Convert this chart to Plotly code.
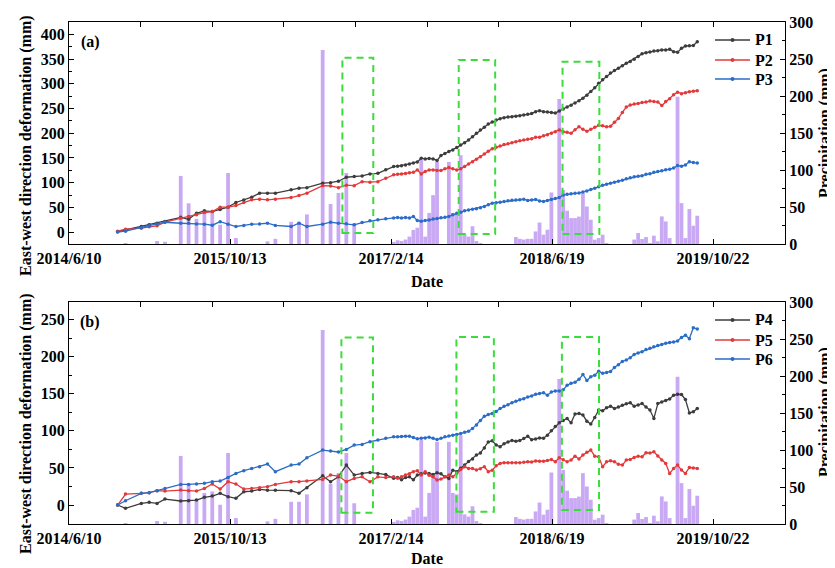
import plotly.graph_objects as go

# ---------------- data ----------------
dates = [
    "2014-11-05", "2014-11-29", "2015-01-16", "2015-02-09", "2015-03-05", "2015-03-29",
    "2015-05-16", "2015-06-09", "2015-07-03", "2015-07-27", "2015-08-20", "2015-09-13",
    "2015-10-07", "2015-10-31", "2015-11-24", "2015-12-18", "2016-01-11", "2016-02-04",
    "2016-02-28", "2016-04-16", "2016-05-10", "2016-06-03", "2016-07-21", "2016-08-14",
    "2016-09-07", "2016-10-01", "2016-10-25", "2016-11-18", "2016-12-12", "2017-01-05",
    "2017-01-29", "2017-02-22",
    "2017-03-06", "2017-03-18", "2017-03-30", "2017-04-11", "2017-04-23", "2017-05-05",
    "2017-05-17", "2017-05-29", "2017-06-10", "2017-06-22", "2017-07-04", "2017-07-16",
    "2017-07-28", "2017-08-09", "2017-08-21", "2017-09-02", "2017-09-14", "2017-09-26",
    "2017-10-08", "2017-10-20", "2017-11-01", "2017-11-13", "2017-11-25", "2017-12-07",
    "2017-12-19", "2017-12-31", "2018-01-12", "2018-01-24", "2018-02-05", "2018-02-17",
    "2018-03-01", "2018-03-13", "2018-03-25", "2018-04-06", "2018-04-18", "2018-04-30",
    "2018-05-12", "2018-05-24", "2018-06-05", "2018-06-17", "2018-06-29", "2018-07-11",
    "2018-07-23", "2018-08-04", "2018-08-16", "2018-08-28", "2018-09-09", "2018-09-21",
    "2018-10-03", "2018-10-15", "2018-10-27", "2018-11-08", "2018-11-20", "2018-12-02",
    "2018-12-14", "2018-12-26", "2019-01-07", "2019-01-19", "2019-01-31", "2019-02-12",
    "2019-02-24", "2019-03-08", "2019-03-20", "2019-04-01", "2019-04-13", "2019-04-25",
    "2019-05-07", "2019-05-19", "2019-05-31", "2019-06-12", "2019-06-24", "2019-07-06",
    "2019-07-18", "2019-07-30", "2019-08-11", "2019-08-23", "2019-09-04",
]

p1 = [1, 4.6, 11.4, 14.7, 18, 21.4, 30, 26, 38, 43, 41.6, 46, 50.5, 60, 65, 70.7, 78.8, 78.8,
      78.8, 85.5, 88.9, 90, 99, 100, 103, 111, 112.3, 113.7, 117.8, 119, 126, 132.5,
      133.5, 134.5, 136, 138, 140, 142, 149.5, 148, 149, 148, 145, 155, 159, 163, 166, 171,
      176, 181, 186.5, 193, 200, 206.7, 212, 218.8, 222.7, 226.8, 229.5, 231.5, 232.9, 233.6,
      234.3, 235.6, 237, 238.3, 239.7, 243.7, 245.7, 243.7, 243, 242, 241, 245, 249, 253,
      256.4, 261, 265.6, 271, 277, 284.3, 292, 301, 308, 315, 321.6, 327, 331.6, 336.4,
      341.7, 345, 349.8, 355, 360.6, 363, 364.3, 366.5, 367, 368.5, 368.5, 369.7, 365, 363.6,
      371.7, 376.5, 377, 377.5, 385]

p2 = [2, 6, 8, 10.7, 12.8, 20, 28, 31.6, 35, 39.6, 41.6, 50.5, 50.5, 53.8, 59.9, 65.3, 66.7, 65.3,
      66.7, 70, 74, 78.8, 94, 93.5, 90, 95, 94, 102, 101, 102, 109, 116,
      117, 117.8, 118.5, 120, 121, 125.9, 117.8, 122.5, 125.9, 125.9, 124.6, 124.6, 128, 130.6,
      128, 125.9, 128, 132.6, 138, 142.6, 147.3, 152.7, 158, 163.5, 168.8, 171.5, 174.2, 177,
      179, 181, 183, 185, 186.5, 187.8, 189, 191.8, 191.8, 195, 197, 200, 203, 206.6, 203, 202,
      200, 207, 213, 208, 204, 208, 212, 216, 215, 213, 214, 222, 230, 242, 253, 257, 259, 260,
      262, 263, 265, 264, 263, 256, 264, 270, 278, 283, 280, 282, 284, 285, 286]

p3 = [0.3, 2, 9.5, 13, 16.6, 20, 18, 18, 16.6, 16, 14, 21, 16, 11.4, 13.5, 16, 16.6, 18, 13.5,
      11.4, 18, 11.4, 16, 20, 18, 16.8, 14.7, 19.4, 22.8, 25, 27, 28.5,
      29.7, 28.5, 29.7, 28.5, 31.8, 23.4, 22, 23.4, 24.5, 26.5, 27.5, 29, 30, 31.8, 35, 38, 40,
      43, 45, 46.5, 47.5, 49.5, 52, 55.5, 58.5, 59.5, 60.5, 62, 63.5, 64.5, 65, 65.5, 66.5, 64,
      65, 66, 63, 62, 64, 66, 68, 70, 75, 76.5, 77.5, 78.5, 79, 81, 83, 86, 89, 92, 95, 97, 99,
      101, 103, 105, 108, 110, 112, 113, 114, 117, 118, 121, 122.5, 124, 126, 127, 129.5, 134.6,
      133, 136, 142.6, 140.6, 140]

p4 = [0, -4.5, 2.2, 3.6, 2.2, 8, 5.4, 5.8, 6.7, 10.3, 12.1, 15.7, 11.2, 9, 17.9, 18.8, 21, 20,
      20, 19.3, 15.7, 23.3, 39.5, 31.4, 38, 53.8, 40.4, 42.6, 44, 42.6, 41, 36,
      37, 34, 37, 38, 34, 40.4, 42, 43, 42.6, 41, 43.5, 42, 38, 35.9, 47, 45, 49.4, 54, 58.5,
      62, 67.5, 70, 77, 85, 86.5, 81, 78.5, 82.5, 85, 87, 86, 87, 89.7, 92.8, 88, 89, 90.5, 90,
      94.2, 100, 106, 111, 114, 116.7, 110.8, 122.6, 123.5, 121.3, 113, 109.1, 118, 128, 127.1,
      131, 133.1, 130, 132, 134.6, 136.5, 137.8, 133.1, 135, 136.7, 132, 128, 116.7, 136.7, 139,
      141, 143, 147.9, 149.3, 149, 142.1, 124.2, 125.6, 130]

p5 = [0, 14.8, 15.7, 16.6, 19.3, 18.8, 20.2, 19.3, 18.8, 22.4, 28.3, 21.5, 31.4, 28.3, 21.5, 22.4,
      23.3, 24.7, 27.8, 31.4, 31.4, 32.3, 34.5, 40.4, 39, 31.4, 35.9, 38, 31.4, 38, 37, 38,
      36, 38, 40.4, 42, 45, 46.2, 40.4, 44.9, 40, 38, 33.6, 35, 38, 40.4, 38, 42.6, 48, 51.6,
      49.3, 49.3, 47.1, 49, 51.6, 44.9, 47, 53, 56, 57, 57, 57, 57, 57, 57.5, 58.3, 58, 59.5,
      59, 59, 60, 61.5, 58.3, 63.8, 61, 58.3, 60.6, 65.8, 62, 67.3, 71, 74, 65.8, 65, 51.6,
      58.3, 59.7, 58.3, 55, 53.8, 60.6, 61.5, 64, 65.8, 65, 70.4, 70, 71.8, 66, 60.6, 56, 42.6,
      49.3, 53.8, 47.1, 42.6, 50.6, 50, 49.3]

p6 = [0, 5.8, 15.7, 16.6, 19.3, 22.4, 27.8, 27.8, 28.3, 29.2, 31.4, 32.3, 37.2, 42.6, 46.2, 49.3,
      51.6, 55.2, 44.9, 53.8, 55.2, 63.7, 74, 72.7, 71.5, 75, 80.8, 81.7, 85.3, 87.5, 90, 91.9,
      92, 92.5, 92.8, 92.8, 91, 89.2, 90, 90.5, 91.5, 90, 88.3, 90, 91.9, 93, 94.2, 95, 96.4, 98,
      99.5, 103, 108, 114, 119.6, 121.9, 123.5, 126, 130, 133.1, 135.3, 138, 140, 142, 143.4,
      145.6, 147, 149.3, 150.2, 151.5, 147.9, 152.4, 153.8, 153.8, 155.3, 161.5, 164, 165.5,
      169.5, 176, 168, 173, 175, 180.3, 177.5, 178.5, 180, 185.5, 189, 193.5, 195.5, 198.5, 203,
      205, 206.5, 209.5, 211.5, 213.5, 215, 216.5, 218, 219, 219.8, 221, 226, 228.8, 224.3,
      239.1, 237.3]

precip = [0, 1, 0, 0, 4, 3, 92, 55, 34, 42, 44, 26, 96, 8, 0, 0, 0, 3.5, 7, 30, 30, 40, 262, 54,
          69, 96, 28, 0, 0, 0, 0, 2,
          5, 4, 6, 10, 19, 22, 113.6, 10, 42, 66, 111, 0, 0, 111, 42, 40, 120, 13, 10, 24, 4, 1,
          0, 0, 0, 0, 0, 0, 0, 0, 9.4, 7, 6, 7, 7, 17, 29, 12.6, 19.3, 69.6, 0, 195.8, 73, 45,
          35, 35, 37, 68.7, 50.7, 32.8, 5.8, 8, 12.6, 1, 0, 0, 0, 0, 0, 0, 6, 14.8, 6.7, 9.4, 1,
          11.2, 3.6, 37.3, 30.5, 8, 0, 199, 55.2, 8, 47.2, 24.7, 38.2]

tick_dates = ["2014-06-10", "2015-10-13", "2017-02-14", "2018-06-19", "2019-10-22"]
tick_text = ["2014/6/10", "2015/10/13", "2017/2/14", "2018/6/19", "2019/10/22"]

top_names = ["P1", "P2", "P3"]
bottom_names = ["P4", "P5", "P6"]

# ---------------- styling ----------------
FONT = "Liberation Serif"
COLORS = ["#3c3c3c", "#e23a3a", "#2a6cc8"]
BAR_COLOR = "#c9a9f3"
GREEN = "#3ddc3d"
DAY_MS = 86400000
OFF = 8                       # page body margin offsets the figure by 8 px
W, H = 827, 560
ML, MR, MT, MB = 61, 50, 14, 44
PW, PH = W - ML - MR, H - MT - MB


def px2paper(px, py):
    """screen pixel of the 835x568 page -> paper coordinates"""
    return (px - OFF - ML) / PW, (H - MB - (py - OFF)) / PH


fig = go.Figure()

# precipitation bars (base axes so the deformation lines draw on top)
fig.add_trace(go.Bar(x=dates, y=precip, xaxis="x", yaxis="y", marker_color=BAR_COLOR,
                     marker_line_width=0, width=11.5 * DAY_MS, showlegend=False, hoverinfo="skip"))
fig.add_trace(go.Bar(x=dates, y=precip, xaxis="x2", yaxis="y3", marker_color=BAR_COLOR,
                     marker_line_width=0, width=11.5 * DAY_MS, showlegend=False, hoverinfo="skip"))

for name, vals, col in zip(top_names, [p1, p2, p3], COLORS):
    fig.add_trace(go.Scatter(x=dates, y=vals, xaxis="x", yaxis="y2", name=name,
                             mode="lines+markers", line=dict(color=col, width=1.3),
                             marker=dict(color=col, size=3.5), showlegend=False))
for name, vals, col in zip(bottom_names, [p4, p5, p6], COLORS):
    fig.add_trace(go.Scatter(x=dates, y=vals, xaxis="x2", yaxis="y4", name=name,
                             mode="lines+markers", line=dict(color=col, width=1.3),
                             marker=dict(color=col, size=3.5), showlegend=False))

# dummy traces for the top-edge tick axes
fig.add_trace(go.Scatter(x=[None], y=[None], xaxis="x3", yaxis="y", showlegend=False, hoverinfo="skip"))
fig.add_trace(go.Scatter(x=[None], y=[None], xaxis="x4", yaxis="y3", showlegend=False, hoverinfo="skip"))

tickfont = dict(family=FONT, size=16, color="black", weight="bold")
xrange = ["2014-06-10", "2020-05-28"]
top_dom = [px2paper(0, 244)[1], 1.0]
bot_dom = [0.0, px2paper(0, 302)[1]]

xcommon = dict(range=xrange, tickvals=tick_dates, ticktext=tick_text, ticks="inside",
               ticklen=5, tickcolor="black", showline=True, linecolor="black", linewidth=1,
               mirror=True, showgrid=False, zeroline=False, tickfont=tickfont, automargin=False)
topticks = dict(range=[0, 10], tickvals=list(range(1, 10)), ticks="inside", ticklen=5,
                tickcolor="black", showticklabels=False, showgrid=False, zeroline=False,
                showline=False, side="top", automargin=False)
ycommon = dict(ticks="inside", ticklen=5, tickcolor="black", showline=True, linecolor="black",
               linewidth=1, showgrid=False, zeroline=False, tickfont=tickfont, automargin=False,
               minor=dict(ticks="inside", ticklen=3, tickcolor="black", dtick=25))

fig.update_layout(
    width=W, height=H,
    margin=dict(l=ML, r=MR, t=MT, b=MB, autoexpand=False),
    paper_bgcolor="white", plot_bgcolor="white",
    font=dict(family=FONT, size=16, color="black"),
    barmode="overlay",
    showlegend=False,
    xaxis=dict(domain=[0, 1], anchor="y", **xcommon),
    xaxis2=dict(domain=[0, 1], anchor="y3", **xcommon),
    xaxis3=dict(overlaying="x", anchor="y", **topticks),
    xaxis4=dict(overlaying="x2", anchor="y3", **topticks),
    yaxis=dict(domain=top_dom, anchor="x", side="right", range=[0, 300], tick0=0, dtick=50, **ycommon),
    yaxis2=dict(overlaying="y", anchor="x", side="left", range=[-24, 425], tick0=0, dtick=50, **ycommon),
    yaxis3=dict(domain=bot_dom, anchor="x2", side="right", range=[0, 300], tick0=0, dtick=50, **ycommon),
    yaxis4=dict(overlaying="y3", anchor="x2", side="left", range=[-25.6, 273.7], tick0=0, dtick=50, **ycommon),
)

# green dashed boxes (x as dates, y in deformation units)
boxes_top = [("2016-09-19", "2016-12-22", -2, 352.7), ("2017-09-08", "2017-12-28", -4, 348),
             ("2018-07-21", "2018-11-10", -4, 344.6)]
boxes_bot = [("2016-09-16", "2016-12-21", -10.4, 225.7), ("2017-09-01", "2017-12-24", -9, 226.5),
             ("2018-07-19", "2018-11-09", -6.7, 226.5)]
for x0, x1, y0, y1 in boxes_top:
    fig.add_shape(type="rect", xref="x", yref="y2", x0=x0, x1=x1, y0=y0, y1=y1,
                  line=dict(color=GREEN, width=2, dash="7px,5px"), fillcolor="rgba(0,0,0,0)")
for x0, x1, y0, y1 in boxes_bot:
    fig.add_shape(type="rect", xref="x2", yref="y4", x0=x0, x1=x1, y0=y0, y1=y1,
                  line=dict(color=GREEN, width=2, dash="7px,5px"), fillcolor="rgba(0,0,0,0)")

bold16 = dict(family=FONT, size=16, color="black", weight="bold")

# legends drawn as line + marker + label (compact row spacing like the original)
legend_rows = [(top_names, [40, 60, 79]), (bottom_names, [320, 340, 359])]
for names, rows in legend_rows:
    for name, col, py in zip(names, COLORS, rows):
        xa, ya = px2paper(715, py)
        xb, _ = px2paper(750, py)
        xm, _ = px2paper(732.5, py)
        fig.add_shape(type="line", xref="paper", yref="paper", x0=xa, x1=xb, y0=ya, y1=ya,
                      line=dict(color=col, width=1.3))
        fig.add_shape(type="circle", xref="paper", yref="paper", x0=xm - 2 / PW, x1=xm + 2 / PW,
                      y0=ya - 2 / PH, y1=ya + 2 / PH, line=dict(color=col, width=0), fillcolor=col)
        xt, _ = px2paper(753, py)
        fig.add_annotation(xref="paper", yref="paper", x=xt, y=ya, text=name, showarrow=False,
                           xanchor="left", yanchor="middle", font=bold16)

ann = [
    ("(a)", 90, 42, 0), ("(b)", 90, 322, 0),
    ("Date", 427, 281, 0), ("Date", 427, 558, 0),
    ("East-west direction deformation (mm)", 26, 146, -90),
    ("East-west direction deformation (mm)", 26, 424, -90),
    ("Precipitation (mm)", 825, 133, -90),
    ("Precipitation (mm)", 825, 412, -90),
]
for text, px, py, ang in ann:
    xa, ya = px2paper(px, py)
    fig.add_annotation(xref="paper", yref="paper", x=xa, y=ya, text=text, showarrow=False,
                       font=bold16, xanchor="center", yanchor="middle", textangle=ang)

fig.write_html("out.html")
